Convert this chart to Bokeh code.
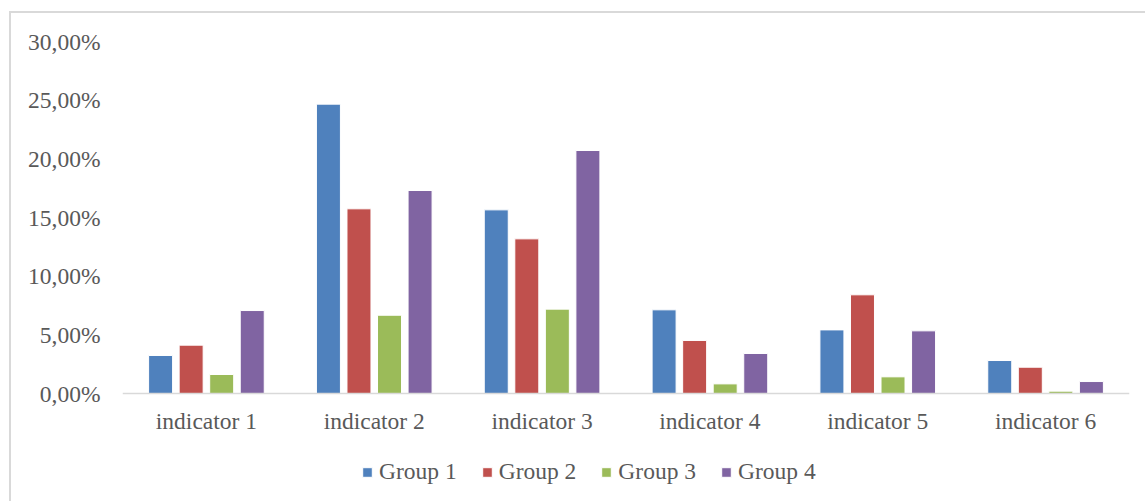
from bokeh.plotting import figure
from bokeh.models import FactorRange, Range1d, FixedTicker, Legend, LegendItem
from bokeh.transform import dodge
from bokeh.embed import file_html
from bokeh.resources import INLINE

indicators = ["indicator 1", "indicator 2", "indicator 3", "indicator 4", "indicator 5", "indicator 6"]
groups = ["Group 1", "Group 2", "Group 3", "Group 4"]
group1 = [0.0324, 0.2466, 0.1565, 0.0713, 0.0542, 0.0281]
group2 = [0.0412, 0.1574, 0.1318, 0.0452, 0.0841, 0.0224]
group3 = [0.0162, 0.0667, 0.0719, 0.0082, 0.0142, 0.0020]
group4 = [0.0707, 0.1730, 0.2071, 0.0341, 0.0534, 0.0102]
y_ticks = [0.0, 0.05, 0.10, 0.15, 0.20, 0.25, 0.30]
y_tick_labels = ["0,00%", "5,00%", "10,00%", "15,00%", "20,00%", "25,00%", "30,00%"]
colors = ["#4F81BD", "#C0504D", "#9BBB59", "#8064A2"]

FONT = "Liberation Serif"
FS = "23.5px"
TXT = "#595959"

# frame spans the bars area plus the strip underneath (labels + legend);
# y = 0 sits 108 px above the bottom of a 460 px tall frame
Y_MAX = 0.30
Y_MIN = -Y_MAX * 108 / 352

p = figure(x_range=FactorRange(*indicators), y_range=Range1d(Y_MIN, Y_MAX),
           frame_width=1007, frame_height=460,
           output_backend="svg", toolbar_location=None,
           min_border_left=111, min_border_right=16, min_border_top=28, min_border_bottom=0,
           margin=(11, 0, 0, 9),
           styles={"border-top": "2px solid #d9d9d9", "border-left": "2px solid #d9d9d9"})

data = dict(ind=indicators, g1=group1, g2=group2, g3=group3, g4=group4)
pitch = 0.182
bw = 0.143
renderers = []
for i, (key, c) in enumerate(zip(["g1", "g2", "g3", "g4"], colors)):
    off = (i - 1.5) * pitch
    r = p.vbar(x=dodge("ind", off, range=p.x_range), top=key, bottom=0, width=bw, source=data,
               fill_color=c, line_color="white", line_width=1)
    renderers.append(r)

p.xgrid.grid_line_color = None
p.ygrid.grid_line_color = None
p.outline_line_color = None

p.yaxis.ticker = FixedTicker(ticks=y_ticks)
p.yaxis.major_label_overrides = {t: l for t, l in zip(y_ticks, y_tick_labels)}
p.yaxis.axis_line_color = None
p.yaxis.major_tick_line_color = None
p.yaxis.minor_tick_line_color = None
p.yaxis.major_tick_out = 0
p.yaxis.major_tick_in = 0
p.yaxis.major_label_standoff = 22
p.yaxis.major_label_text_font = FONT
p.yaxis.major_label_text_font_size = FS
p.yaxis.major_label_text_color = TXT

p.xaxis.fixed_location = 0
p.xaxis.axis_line_color = "#d9d9d9"
p.xaxis.axis_line_width = 1.5
p.xaxis.major_tick_line_color = None
p.xaxis.major_tick_out = 0
p.xaxis.major_tick_in = 0
p.xaxis.major_label_standoff = 14
p.xaxis.major_label_text_font = FONT
p.xaxis.major_label_text_font_size = FS
p.xaxis.major_label_text_color = TXT

legend = Legend(items=[LegendItem(label=g, renderers=[r]) for g, r in zip(groups, renderers)],
                orientation="horizontal", location=(239, 16),
                border_line_alpha=0, background_fill_alpha=0,
                glyph_width=12, glyph_height=12, label_standoff=6, spacing=24,
                padding=0, margin=0,
                label_text_font=FONT, label_text_font_size=FS, label_text_color=TXT)
p.add_layout(legend)

open("out.html", "w").write(file_html(p, INLINE))
